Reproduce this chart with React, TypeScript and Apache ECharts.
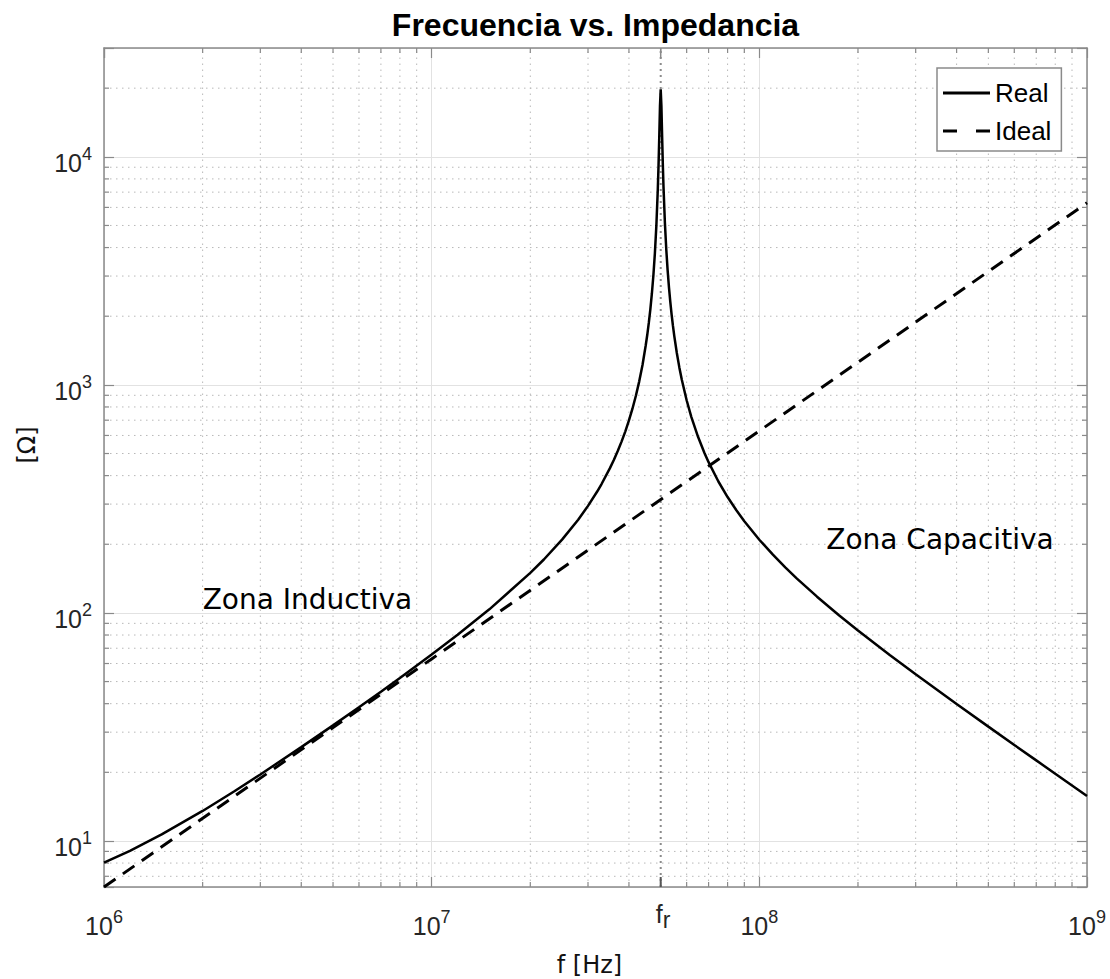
import React, { useEffect, useRef } from 'react';
import * as echarts from 'echarts';

// ---- data ----
const FREQ = [
  1e6, 1.2e6, 1.5e6, 2e6, 2.5e6, 3e6, 4e6, 5e6, 6e6, 7e6, 8e6,
  1e7, 1.2e7, 1.5e7, 2e7, 2.2e7, 2.5e7, 2.8e7, 3e7, 3.2e7, 3.3e7, 3.5e7, 3.6e7, 3.7e7, 3.8e7,
  3.9e7, 4e7, 4.1e7, 4.2e7, 4.3e7, 4.4e7, 4.5e7, 4.55e7, 4.6e7, 4.65e7, 4.7e7, 4.75e7, 4.8e7,
  4.85e7, 4.9e7, 4.925e7, 4.95e7, 4.975e7,
  5e7, 5.025e7, 5.05e7, 5.075e7, 5.1e7, 5.15e7, 5.2e7, 5.25e7, 5.3e7, 5.35e7, 5.4e7, 5.45e7,
  5.5e7, 5.6e7, 5.7e7, 5.8e7, 6e7, 6.2e7, 6.5e7, 6.8e7, 7e7, 7.5e7, 8e7, 8.5e7, 9e7,
  1e8, 1.1e8, 1.2e8, 1.3e8, 1.5e8, 1.75e8, 2e8, 2.5e8, 3e8, 4e8, 5e8, 6e8, 7e8, 8e8, 1e9,
];
const Z_REAL = [
  8.03, 9.05, 10.68, 13.54, 16.52, 19.57, 25.79, 32.13, 38.58, 45.15, 51.85,
  65.66, 80.18, 103.7, 149.8, 171.5, 209.6, 256.4, 294.7, 340.6, 367.5, 431.4, 469.8, 514.0, 565.3,
  625.6, 698.4, 785.9, 895.5, 1036, 1223, 1488, 1658, 1874, 2150, 2516, 3025, 3776,
  4989, 7234, 9197, 12255, 16705,
  19760, 16728, 12333, 9305, 7361, 5131, 3924, 3177, 2669, 2304, 2028, 1813,
  1640, 1380, 1193, 1053, 856.2, 724.2, 591.9, 502.7, 458.1, 376.9, 322.2, 282.6, 252.4,
  209.4, 180.0, 158.4, 141.8, 117.8, 97.74, 83.78, 65.45, 53.86, 39.89, 31.73, 26.36, 22.56, 19.71, 15.75,
];
const FREQ_IDEAL = [1e6, 1e7, 1e8, 1e9];
const Z_IDEAL = [6.283, 62.83, 628.3, 6283];

const SERIES_NAMES = ['Real', 'Ideal'];
const FR = 5e7;
const X_MIN = 1e6;
const X_MAX = 1e9;
const Y_MIN = 6.283;
const Y_MAX = 3e4;

const X_MINOR = [
  2e6, 3e6, 4e6, 5e6, 6e6, 7e6, 8e6, 9e6,
  2e7, 3e7, 4e7, 5e7, 6e7, 7e7, 8e7, 9e7,
  2e8, 3e8, 4e8, 5e8, 6e8, 7e8, 8e8, 9e8,
];
const Y_MINOR = [
  7, 8, 9,
  20, 30, 40, 50, 60, 70, 80, 90,
  200, 300, 400, 500, 600, 700, 800, 900,
  2000, 3000, 4000, 5000, 6000, 7000, 8000, 9000,
  20000,
];

const ANNOTATIONS = [
  { text: 'Zona Inductiva', f: 2e6, z: 115 },
  { text: 'Zona Capacitiva', f: 1.6e8, z: 210 },
];

const TITLE = 'Frecuencia vs. Impedancia';
const X_NAME = 'f [Hz]';
const Y_NAME = '[Ω]';

// ---- styles ----
const AXIS = '#8a8a8a';
const MAJOR_GRID = '#e2e2e2';
const MINOR_GRID = '#b8b8b8';
const TICK_TEXT = '#262626';
const SANS = 'Liberation Sans';
const DEJAVU = 'DejaVu Sans';

const powLabel = (v: number) => {
  const l = Math.log10(v);
  const e = Math.round(l);
  if (Math.abs(l - e) > 1e-6) return '';
  return `{b|10}{s|${e}}`;
};

const xRich = {
  b: { fontSize: 25, fontFamily: SANS, color: TICK_TEXT, lineHeight: 36, verticalAlign: 'middle' },
  s: { fontSize: 18, fontFamily: SANS, color: TICK_TEXT, lineHeight: 10, verticalAlign: 'top' },
};
const yRich = {
  b: { fontSize: 25, fontFamily: SANS, color: TICK_TEXT, lineHeight: 36, verticalAlign: 'middle' },
  s: { fontSize: 18, fontFamily: SANS, color: TICK_TEXT, lineHeight: 16, verticalAlign: 'top' },
};

export default function App() {
  const ref = useRef<HTMLDivElement>(null);

  useEffect(() => {
    const chart = echarts.init(ref.current!, null, { renderer: 'svg' });

    const xAxisBase = {
      type: 'log',
      logBase: 10,
      min: X_MIN,
      max: X_MAX,
      axisLine: { show: true, onZero: false, lineStyle: { color: AXIS, width: 1.5 } },
      axisTick: { show: true, inside: true, length: 10, lineStyle: { color: AXIS, width: 1.2 } },
    };
    const yAxisBase = {
      type: 'log',
      logBase: 10,
      min: Y_MIN,
      max: Y_MAX,
      axisLine: { show: true, onZero: false, lineStyle: { color: AXIS, width: 1.5 } },
      axisTick: { show: true, inside: true, length: 10, lineStyle: { color: AXIS, width: 1.2 } },
    };

    const option: any = {
      animation: false,
      backgroundColor: '#fff',
      grid: { left: 104, right: 23, top: 48, bottom: 92, containLabel: false },
      xAxis: [
        {
          ...xAxisBase,
          position: 'bottom',
          splitLine: { show: true, lineStyle: { color: MAJOR_GRID, width: 1 } },
          axisLabel: { show: true, margin: 21, formatter: powLabel, rich: xRich },
        },
        {
          ...xAxisBase,
          position: 'top',
          splitLine: { show: false },
          axisLabel: { show: false },
        },
      ],
      yAxis: [
        {
          ...yAxisBase,
          position: 'left',
          splitLine: { show: true, lineStyle: { color: MAJOR_GRID, width: 1 } },
          axisLabel: { show: true, margin: 12, formatter: powLabel, rich: yRich, padding: [12, 0, 0, 0] },
        },
        {
          ...yAxisBase,
          position: 'right',
          splitLine: { show: false },
          axisLabel: { show: false },
        },
      ],
      legend: {
        data: [
          { name: SERIES_NAMES[0], icon: 'path://M0,0h47v3h-47z' },
          { name: SERIES_NAMES[1], icon: 'path://M0,0h14v3h-14zM33,0h14v3h-14z' },
        ],
        orient: 'vertical',
        left: 937,
        top: 68,
        itemWidth: 47,
        itemHeight: 3,
        itemGap: 12,
        padding: [12, 10, 7, 6],
        borderColor: AXIS,
        borderWidth: 1.5,
        backgroundColor: '#fff',
        textStyle: { fontSize: 26, lineHeight: 26, fontFamily: SANS, color: '#000' },
      },
      series: [
        {
          type: 'custom',
          name: 'xMinor',
          silent: true,
          z: 1,
          clip: false,
          xAxisIndex: 0,
          yAxisIndex: 0,
          data: X_MINOR.map((v) => [v, Y_MIN]),
          encode: { x: 0, y: 1 },
          renderItem: (params: any, api: any) => {
            const v = api.value(0);
            const b = api.coord([v, Y_MIN]);
            const t = api.coord([v, Y_MAX]);
            return {
              type: 'group',
              children: [
                { type: 'line', shape: { x1: b[0], y1: b[1], x2: t[0], y2: t[1] }, style: { stroke: MINOR_GRID, lineWidth: 1, lineDash: [1.5, 4.5] } },
                { type: 'line', shape: { x1: b[0], y1: b[1], x2: b[0], y2: b[1] - 5 }, style: { stroke: AXIS, lineWidth: 1.2 } },
                { type: 'line', shape: { x1: t[0], y1: t[1], x2: t[0], y2: t[1] + 5 }, style: { stroke: AXIS, lineWidth: 1.2 } },
              ],
            };
          },
        },
        {
          type: 'custom',
          name: 'yMinor',
          silent: true,
          z: 1,
          clip: false,
          xAxisIndex: 0,
          yAxisIndex: 0,
          data: Y_MINOR.map((v) => [X_MIN, v]),
          encode: { x: 0, y: 1 },
          renderItem: (params: any, api: any) => {
            const v = api.value(1);
            const l = api.coord([X_MIN, v]);
            const r = api.coord([X_MAX, v]);
            return {
              type: 'group',
              children: [
                { type: 'line', shape: { x1: l[0], y1: l[1], x2: r[0], y2: r[1] }, style: { stroke: MINOR_GRID, lineWidth: 1, lineDash: [1.5, 4.5] } },
                { type: 'line', shape: { x1: l[0], y1: l[1], x2: l[0] + 5, y2: l[1] }, style: { stroke: AXIS, lineWidth: 1.2 } },
                { type: 'line', shape: { x1: r[0], y1: r[1], x2: r[0] - 5, y2: r[1] }, style: { stroke: AXIS, lineWidth: 1.2 } },
              ],
            };
          },
        },
        {
          type: 'custom',
          name: 'fr',
          silent: true,
          z: 2,
          clip: false,
          xAxisIndex: 0,
          yAxisIndex: 0,
          data: [[FR, Y_MIN]],
          encode: { x: 0, y: 1 },
          renderItem: (params: any, api: any) => {
            const v = api.value(0);
            const b = api.coord([v, Y_MIN]);
            const t = api.coord([v, Y_MAX]);
            return {
              type: 'group',
              children: [
                { type: 'line', shape: { x1: b[0], y1: b[1], x2: t[0], y2: t[1] }, style: { stroke: '#8c8c8c', lineWidth: 2, lineDash: [2, 4] } },
                { type: 'line', shape: { x1: b[0], y1: b[1], x2: b[0], y2: b[1] - 10 }, style: { stroke: '#555', lineWidth: 2 } },
                { type: 'line', shape: { x1: t[0], y1: t[1], x2: t[0], y2: t[1] + 10 }, style: { stroke: AXIS, lineWidth: 1.5 } },
                {
                  type: 'text',
                  x: b[0] + 2,
                  y: b[1] + 14,
                  style: { text: 'f', align: 'right', verticalAlign: 'top', font: `25px "${SANS}"`, fill: TICK_TEXT },
                },
                {
                  type: 'text',
                  x: b[0] + 2,
                  y: b[1] + 21,
                  style: { text: 'r', align: 'left', verticalAlign: 'top', font: `23px "${SANS}"`, fill: TICK_TEXT },
                },
              ],
            };
          },
        },
        {
          type: 'line',
          name: SERIES_NAMES[0],
          z: 5,
          symbol: 'none',
          showSymbol: false,
          xAxisIndex: 0,
          yAxisIndex: 0,
          data: FREQ.map((f, i) => [f, Z_REAL[i]]),
          lineStyle: { color: '#000', width: 2.5 },
          itemStyle: { color: '#000' },
        },
        {
          type: 'line',
          name: SERIES_NAMES[1],
          z: 4,
          symbol: 'none',
          showSymbol: false,
          xAxisIndex: 0,
          yAxisIndex: 0,
          data: FREQ_IDEAL.map((f, i) => [f, Z_IDEAL[i]]),
          lineStyle: { color: '#000', width: 3, type: [14, 9] },
          itemStyle: { color: '#000' },
        },
      ],
    };

    chart.setOption(option);

    const gridPt = (f: number, z: number) => chart.convertToPixel({ xAxisIndex: 0, yAxisIndex: 0 }, [f, z]) as number[];
    const left = gridPt(X_MIN, Y_MIN);
    const right = gridPt(X_MAX, Y_MAX);
    const cx = (left[0] + right[0]) / 2;

    const graphics: any[] = [
      {
        type: 'text',
        x: cx,
        y: 25,
        z: 10,
        style: { text: TITLE, align: 'center', verticalAlign: 'middle', font: `bold 32px "${SANS}"`, fill: '#000' },
      },
      {
        type: 'text',
        x: cx - 6,
        y: 965,
        z: 10,
        style: { text: X_NAME, align: 'center', verticalAlign: 'middle', font: `24px "${DEJAVU}"`, fill: '#111' },
      },
      {
        type: 'text',
        x: 27,
        y: 445,
        rotation: Math.PI / 2,
        z: 10,
        style: { text: Y_NAME, align: 'center', verticalAlign: 'middle', font: `24px "${DEJAVU}"`, fill: '#111' },
      },
      ...ANNOTATIONS.map((a) => {
        const p = gridPt(a.f, a.z);
        return {
          type: 'text',
          x: p[0],
          y: p[1],
          z: 10,
          style: { text: a.text, align: 'left', verticalAlign: 'middle', font: `28px "${DEJAVU}"`, fill: '#000' },
        };
      }),
    ];
    chart.setOption({ graphic: graphics });

    return () => chart.dispose();
  }, []);

  return (
    <div
      ref={ref}
      style={{ position: 'absolute', left: 0, top: 0, width: 1110, height: 979, background: '#fff' }}
    />
  );
}
